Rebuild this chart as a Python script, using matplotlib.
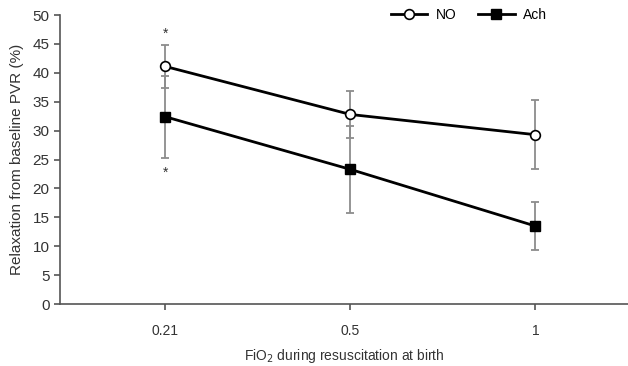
import matplotlib.pyplot as plt

plt.rcParams['font.family'] = ['Liberation Sans', 'DejaVu Sans']

# Données
categories = ['0.21', '0.5', '1']
no_values = [41.1, 32.8, 29.3]
no_err = [3.7, 4.0, 6.0]
ach_values = [32.4, 23.3, 13.5]
ach_err = [7.1, 7.5, 4.2]

x = list(range(len(categories)))

fig = plt.figure(figsize=(6.28, 3.66), dpi=100)
ax = fig.add_axes([0.0955, 0.169, 0.9045, 0.79])

err_style = dict(ecolor='#8c8c8c', elinewidth=1.3, capsize=3, capthick=1.3)

ax.errorbar(x, no_values, yerr=no_err, fmt='none', zorder=1, **err_style)
ax.errorbar(x, ach_values, yerr=ach_err, fmt='none', zorder=1, **err_style)

ax.plot(x, no_values, color='black', lw=2, marker='o', markersize=7,
        markerfacecolor='white', markeredgecolor='black', markeredgewidth=1.2,
        label='NO', zorder=3)
ax.plot(x, ach_values, color='black', lw=2, marker='s', markersize=7,
        markerfacecolor='black', markeredgecolor='black',
        label='Ach', zorder=3)

# astérisques de significativité
ax.text(0, 46.8, '*', ha='center', va='center', fontsize=10, color='#333333')
ax.text(0, 22.8, '*', ha='center', va='center', fontsize=10, color='#333333')

ax.set_xlim(-0.57, 2.5)
ax.set_ylim(0, 50)
ax.set_yticks(range(0, 51, 5))
ax.set_xticks(x)
ax.set_xticklabels(categories)

for side in ['top', 'right']:
    ax.spines[side].set_visible(False)
for side in ['left', 'bottom']:
    ax.spines[side].set_color('#555555')
    ax.spines[side].set_linewidth(1.2)

ax.tick_params(axis='both', colors='#555555', labelcolor='#333333',
               length=4, width=1.2, direction='out')
ax.tick_params(axis='y', labelsize=11)
ax.tick_params(axis='x', labelsize=10, pad=10)

ax.set_ylabel('Relaxation from baseline PVR (%)', fontsize=11, color='#333333',
              labelpad=6)
ax.set_xlabel('FiO$_2$ during resuscitation at birth', fontsize=10,
              color='#333333', labelpad=7)

ax.legend(loc='center', bbox_to_anchor=(0.72, 1.0), ncol=2, frameon=False,
          fontsize=10, handlelength=2.6, columnspacing=1.6, handletextpad=0.6)

plt.savefig('out.png', dpi=100)
